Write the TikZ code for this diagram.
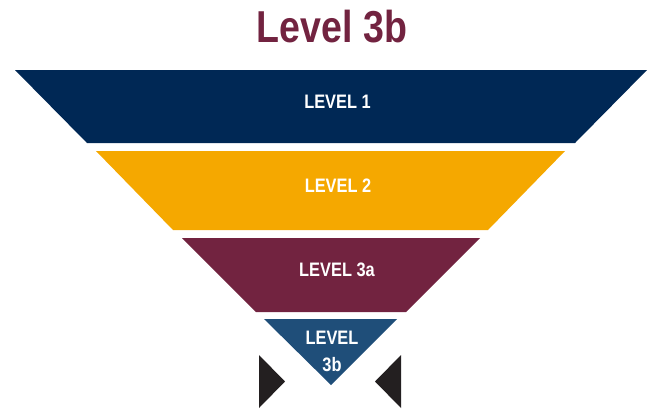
\documentclass[tikz,border=0pt]{standalone}
\usepackage{fontspec}
\setmainfont{Liberation Sans}
\newfontfamily\condbold[FakeStretch=0.84]{Liberation Sans Bold}
\definecolor{navy}{HTML}{002855}
\definecolor{gold}{HTML}{F5A800}
\definecolor{maroon}{HTML}{722340}
\definecolor{steel}{HTML}{1F4E79}
\definecolor{arrowblack}{HTML}{231F20}
\begin{document}
\begin{tikzpicture}[x=1pt,y=-1pt,
  lvltext/.style={text=white,font=\condbold\fontsize{19.5}{27}\selectfont,inner sep=0pt},
  titletext/.style={text=maroon,font=\condbold\fontsize{44.7}{46}\selectfont,inner sep=0pt}]
\useasboundingbox (0,0) rectangle (651,408);
\fill[navy] (15,70) -- (647,70) -- (575,143) -- (87,143) -- cycle;
\fill[gold] (96,151) -- (565,151) -- (488,230) -- (173,230) -- cycle;
\fill[maroon] (182,238) -- (480,238) -- (406,312) -- (256,312) -- cycle;
\fill[steel] (264,319) -- (397,319) -- (331,385) -- cycle;
\fill[arrowblack] (259,355) -- (285,381.5) -- (259,408) -- cycle;
\fill[arrowblack] (401,355) -- (375,381.5) -- (401,408) -- cycle;
\node[titletext] (title) at (332,27) {Level 3b};
\node[lvltext] (l1) at (337.5,102) {LEVEL 1};
\node[lvltext] (l2) at (338,185.5) {LEVEL 2};
\node[lvltext] (l3a) at (337,270) {LEVEL 3a};
\node[lvltext,align=center] (l3b) at (332,351.5) {LEVEL\\3b};
\end{tikzpicture}
\end{document}
